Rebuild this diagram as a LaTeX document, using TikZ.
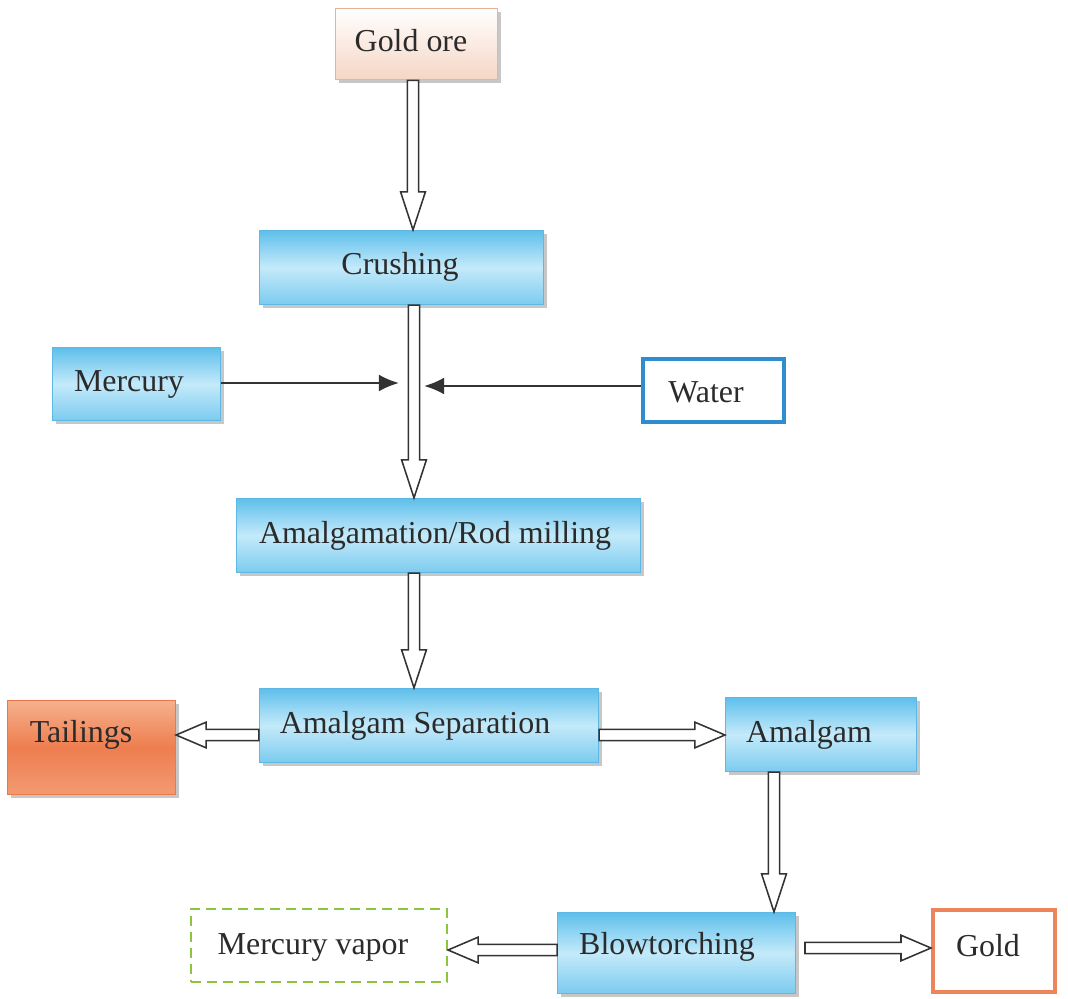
\documentclass[tikz,border=0pt]{standalone}
\usepackage{fontspec}
\setmainfont{Liberation Serif}
\usetikzlibrary{shadows,calc,arrows.meta}
\definecolor{bluetop}{HTML}{5EBFEB}
\definecolor{bluemid}{HTML}{C4EAFA}
\definecolor{bluebot}{HTML}{7CCBEF}
\definecolor{blueedge}{HTML}{5DB8E4}
\definecolor{waterblue}{HTML}{2F8CCF}
\definecolor{goldorange}{HTML}{EE8459}
\definecolor{oretop}{HTML}{FFFFFF}
\definecolor{orebot}{HTML}{F5D6C4}
\definecolor{oreedge}{HTML}{E8B398}
\definecolor{tailtop}{HTML}{F6B08E}
\definecolor{tailmid}{HTML}{EE7E4F}
\definecolor{tailbot}{HTML}{F29A72}
\definecolor{tailedge}{HTML}{E9784A}
\definecolor{vapgreen}{HTML}{8CC63F}
\definecolor{txt}{HTML}{2B2B2B}
\definecolor{linegray}{HTML}{333333}
\tikzset{
  shad/.style={drop shadow={shadow xshift=0.09cm, shadow yshift=-0.09cm, fill=gray!80, opacity=0.55}},
  bluebox/.style={shad, draw=blueedge, line width=0.6pt, top color=bluetop, bottom color=bluebot, middle color=bluemid, inner sep=0pt},
  orebox/.style={shad, draw=oreedge, line width=1.2pt, top color=oretop, bottom color=orebot, inner sep=0pt},
  tailbox/.style={shad, draw=tailedge, line width=0.8pt, top color=tailtop, bottom color=tailbot, middle color=tailmid, inner sep=0pt},
  waterbox/.style={draw=waterblue, line width=0.1cm, fill=white, inner sep=0pt},
  goldbox/.style={draw=goldorange, line width=0.1cm, fill=white, inner sep=0pt},
  vapbox/.style={draw=vapgreen, line width=0.05cm, dash pattern=on 0.25cm off 0.15cm, fill=white, inner sep=0pt},
  lbl/.style={text=txt, font=\fontsize{22.7pt}{26pt}\selectfont, inner sep=0pt, text height=0.66em, text depth=0pt, yshift=-0.17cm},
  barrow/.style={draw=linegray, line width=1.1pt, fill=white, line join=miter},
  thinarrow/.style={draw=linegray, line width=1.6pt, -{Latex[length=0.5cm,width=0.42cm]}}
}
% vertical block arrow: x (px), from anchor, to anchor
\newcommand\vbarrow[3]{%
  \path[barrow] let \p1=(#2), \p2=(#3), \p3=(#1,0) in
    (\x3-0.14cm,\y1) -- (\x3-0.14cm,\y2+0.95cm) -- (\x3-0.31cm,\y2+0.95cm) -- (\x3,\y2)
    -- (\x3+0.31cm,\y2+0.95cm) -- (\x3+0.14cm,\y2+0.95cm) -- (\x3+0.14cm,\y1) -- cycle;}
% horizontal block arrow: y (px), from anchor, to anchor, direction sign (1 right, -1 left)
\newcommand\hbarrow[4]{%
  \path[barrow] let \p1=(#2), \p2=(#3), \p3=(0,#1) in
    (\x1,\y3+0.14cm) -- (\x2-#4*0.75cm,\y3+0.14cm) -- (\x2-#4*0.75cm,\y3+0.32cm) -- (\x2,\y3)
    -- (\x2-#4*0.75cm,\y3-0.32cm) -- (\x2-#4*0.75cm,\y3-0.14cm) -- (\x1,\y3-0.14cm) -- cycle;}
\begin{document}
\begin{tikzpicture}[x=0.025cm, y=-0.025cm]
\useasboundingbox[fill=white] (0,0) rectangle (1068,999);

% boxes
\node[orebox, minimum width=4.05cm, minimum height=1.78cm] (ore) at (416.5,44) {};
\node[bluebox, minimum width=7.1cm, minimum height=1.86cm] (crush) at (401.5,267.5) {};
\node[bluebox, minimum width=4.2cm, minimum height=1.83cm] (merc) at (136.5,384) {};
\node[waterbox, minimum width=3.52cm, minimum height=1.57cm] (water) at (713.5,390.5) {};
\node[bluebox, minimum width=10.1cm, minimum height=1.86cm] (amalg) at (438.5,535.5) {};
\node[bluebox, minimum width=8.48cm, minimum height=1.86cm] (sep) at (429,725.5) {};
\node[tailbox, minimum width=4.2cm, minimum height=2.36cm] (tail) at (91.5,747.5) {};
\node[bluebox, minimum width=4.78cm, minimum height=1.86cm] (am) at (821,734.5) {};
\node[vapbox, minimum width=6.4cm, minimum height=1.83cm] (vap) at (319,945.5) {};
\node[bluebox, minimum width=5.95cm, minimum height=2.03cm] (blow) at (676.5,953) {};
\node[goldbox, minimum width=3.05cm, minimum height=2.05cm] (gold) at (994,951) {};

% labels
\node[lbl] (tore) at (411,40) {Gold ore};
\node[lbl] (tcrush) at (400,263) {Crushing};
\node[lbl] (tmerc) at (129,380) {Mercury};
\node[lbl] (twater) at (706,391) {Water};
\node[lbl] (tamalg) at (435,532) {Amalgamation/Rod milling};
\node[lbl] (tsep) at (415,722) {Amalgam Separation};
\node[lbl] (ttail) at (81,731) {Tailings};
\node[lbl] (tam) at (809,731) {Amalgam};
\node[lbl] (tvap) at (313,943) {Mercury vapor};
\node[lbl] (tblow) at (667,943) {Blowtorching};
\node[lbl] (tgold) at (988,945) {Gold};

% block arrows
\vbarrow{413}{ore.south}{crush.north}
\vbarrow{414}{crush.south}{amalg.north}
\vbarrow{414}{amalg.south}{sep.north}
\vbarrow{774}{am.south}{blow.north}
\hbarrow{735}{sep.west}{tail.east}{-1}
\hbarrow{735}{sep.east}{am.west}{1}
\hbarrow{950}{blow.west}{vap.east}{-1}
\coordinate (gstart) at (805,948);
\hbarrow{948}{gstart}{gold.west}{1}

% thin arrows
\coordinate (mtip) at (399,383);
\coordinate (wtip) at (424,386);
\draw[thinarrow] (mtip -| merc.east) -- (mtip);
\draw[thinarrow] (wtip -| water.west) -- (wtip);
\end{tikzpicture}
\end{document}
